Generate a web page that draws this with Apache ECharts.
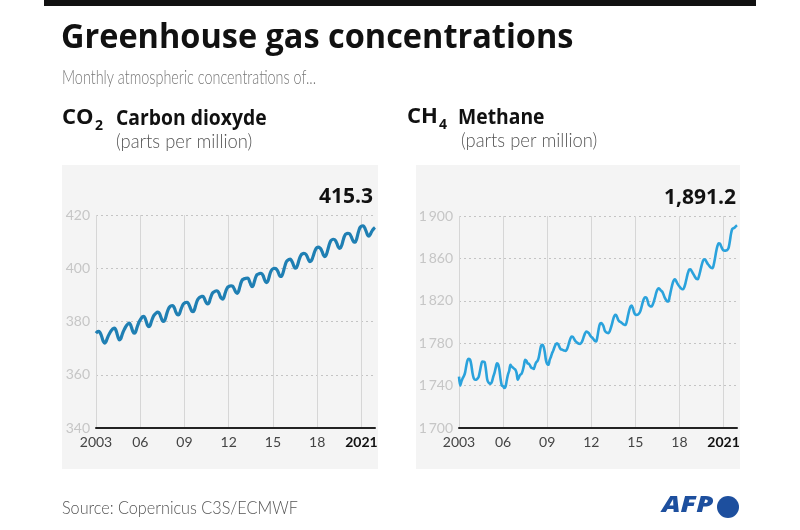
<!DOCTYPE html>
<html>
<head>
<meta charset="utf-8">
<script src="https://cdn.jsdelivr.net/npm/echarts@6/dist/echarts.min.js"></script>
<style>
html,body{margin:0;padding:0;background:#fff;}
#c{width:800px;height:530px;}
</style>
</head>
<body>
<div id="c"></div>
<script>
// ---- Data (monthly, Jan 2003 - Dec 2021) ----
const startYear = 2003;
const xTickLabels = ['2003', '06', '09', '12', '15', '18', '2021'];
const co2Latest = '415.3';
const ch4Latest = '1,891.2';
const co2Ticks = [340, 360, 380, 400, 420];
const ch4Ticks = [1700, 1740, 1780, 1820, 1860, 1900];

const co2 = [
  375.6, 376.1, 376.3, 376.0, 375.2, 373.8, 372.5, 371.9, 372.3, 373.5, 374.6, 375.5, // 2003
  376.3, 376.9, 377.3, 377.5, 377.0, 375.6, 374.0, 373.1, 373.4, 374.7, 376.0, 377.0, // 2004
  377.9, 378.6, 379.1, 379.4, 378.9, 377.6, 376.2, 375.6, 375.9, 377.2, 378.6, 379.8, // 2005
  380.6, 381.3, 381.8, 381.9, 381.2, 379.8, 378.5, 378.1, 378.5, 379.9, 381.2, 382.2, // 2006
  382.8, 383.2, 383.5, 383.4, 382.7, 381.4, 380.3, 380.0, 380.5, 382.0, 383.6, 384.8, // 2007
  385.5, 385.9, 386.0, 385.7, 384.8, 383.5, 382.7, 382.5, 383.0, 384.4, 385.6, 386.5, // 2008
  386.9, 387.1, 387.2, 386.9, 386.0, 384.8, 383.9, 383.7, 384.3, 385.9, 387.4, 388.4, // 2009
  388.9, 389.2, 389.4, 389.4, 388.8, 387.7, 386.9, 386.6, 387.1, 388.6, 389.9, 390.8, // 2010
  391.1, 391.4, 391.5, 391.4, 390.7, 389.5, 388.7, 388.4, 389.0, 390.5, 391.9, 392.8, // 2011
  393.1, 393.3, 393.4, 393.3, 392.7, 391.7, 390.9, 390.6, 391.3, 393.0, 394.6, 395.6, // 2012
  395.9, 396.1, 396.2, 396.3, 396.1, 395.0, 393.8, 393.1, 393.6, 395.2, 396.7, 397.6, // 2013
  397.8, 398.0, 398.1, 397.9, 397.2, 395.9, 394.9, 394.6, 395.3, 397.0, 398.5, 399.4, // 2014
  399.8, 400.0, 399.9, 399.5, 398.8, 397.6, 396.9, 397.0, 398.0, 399.7, 401.3, 402.5, // 2015
  403.0, 403.3, 403.4, 403.0, 402.0, 400.8, 400.0, 400.2, 401.2, 402.8, 404.2, 405.1, // 2016
  405.4, 405.6, 405.5, 405.1, 404.2, 403.1, 402.5, 402.7, 403.6, 405.0, 406.4, 407.4, // 2017
  407.8, 407.9, 407.7, 407.2, 406.2, 405.0, 404.4, 404.7, 405.9, 407.6, 409.2, 410.3, // 2018
  410.7, 410.9, 410.8, 410.3, 409.3, 408.1, 407.5, 407.7, 408.7, 410.4, 411.9, 412.8, // 2019
  413.0, 413.1, 413.0, 412.5, 411.5, 410.4, 409.8, 409.8, 410.9, 412.7, 414.4, 415.4, // 2020
  415.8, 415.9, 415.7, 414.8, 413.6, 412.4, 412.1, 412.6, 413.5, 414.3, 414.9, 415.3  // 2021
];

const ch4 = [
  1748.5, 1740.0, 1744.0, 1747.0, 1749.0, 1752.5, 1759.0, 1764.0, 1765.3, 1764.5, 1760.0, 1752.0, // 2003
  1747.0, 1745.5, 1745.5, 1746.5, 1748.0, 1753.0, 1759.0, 1762.8, 1762.5, 1762.0, 1755.0, 1746.0, // 2004
  1743.0, 1742.0, 1741.8, 1744.0, 1748.5, 1752.0, 1757.0, 1761.0, 1760.0, 1755.0, 1746.0, 1740.0, // 2005
  1739.5, 1737.7, 1739.0, 1745.0, 1750.5, 1754.0, 1759.7, 1758.0, 1757.0, 1756.0, 1755.0, 1752.0, // 2006
  1745.5, 1748.0, 1750.2, 1751.0, 1754.0, 1759.0, 1764.4, 1763.5, 1761.0, 1760.6, 1759.0, 1757.0, // 2007
  1756.5, 1755.6, 1759.0, 1761.9, 1763.0, 1766.0, 1772.0, 1777.5, 1778.5, 1777.0, 1772.0, 1764.0, // 2008
  1760.5, 1759.7, 1764.0, 1767.0, 1770.6, 1773.0, 1776.5, 1779.0, 1780.0, 1779.0, 1776.5, 1774.5, // 2009
  1774.0, 1773.5, 1773.0, 1772.8, 1774.0, 1777.0, 1781.0, 1784.5, 1786.3, 1786.0, 1784.0, 1782.0, // 2010
  1781.0, 1780.0, 1779.5, 1779.4, 1780.5, 1783.0, 1786.5, 1789.5, 1791.0, 1790.5, 1789.5, 1787.5, // 2011
  1786.0, 1785.0, 1783.5, 1782.0, 1781.6, 1786.0, 1793.0, 1798.0, 1798.9, 1798.0, 1796.0, 1792.0, // 2012
  1790.5, 1789.8, 1789.5, 1791.0, 1794.5, 1798.5, 1803.0, 1806.0, 1806.7, 1805.0, 1802.0, 1800.5, // 2013
  1800.0, 1799.0, 1798.0, 1797.5, 1797.3, 1800.5, 1806.0, 1811.0, 1814.5, 1815.5, 1813.0, 1809.0, // 2014
  1807.0, 1806.7, 1807.0, 1808.0, 1810.0, 1814.0, 1818.5, 1822.0, 1823.4, 1823.0, 1820.0, 1816.0, // 2015
  1815.0, 1814.6, 1816.0, 1819.0, 1823.0, 1827.5, 1830.5, 1831.9, 1831.0, 1829.5, 1828.5, 1826.0, // 2016
  1823.0, 1821.0, 1819.5, 1819.3, 1824.0, 1829.5, 1834.5, 1838.5, 1840.3, 1839.5, 1837.0, 1835.0, // 2017
  1833.5, 1832.0, 1831.0, 1830.9, 1833.0, 1837.0, 1842.0, 1846.5, 1849.5, 1849.8, 1848.0, 1846.0, // 2018
  1844.0, 1842.0, 1840.5, 1840.3, 1843.5, 1848.0, 1853.0, 1857.0, 1859.2, 1859.0, 1857.0, 1855.0, // 2019
  1853.5, 1852.0, 1851.0, 1850.7, 1854.0, 1860.0, 1866.5, 1871.5, 1874.3, 1874.0, 1871.5, 1869.0, // 2020
  1867.5, 1867.3, 1867.5, 1868.0, 1869.5, 1875.0, 1882.5, 1887.5, 1888.4, 1889.0, 1890.2, 1891.2  // 2021
];

// ---- Build series pairs (x = years since Jan 2003) ----
function toPairs(arr) {
  return arr.map((v, i) => [i / 12, v]);
}
const xMax = (co2.length - 1) / 12;

const chart = echarts.init(document.getElementById('c'), null, {renderer: 'canvas'});

const FONT = 'Lato, "Open Sans", sans-serif';

function xAxisCfg(gridIndex) {
  return {
    type: 'value', gridIndex: gridIndex,
    min: 0, max: xMax, interval: 3,
    axisLine: {show: true, onZero: false, lineStyle: {color: '#222', width: 2}},
    axisTick: {show: false},
    splitLine: {show: true, showMaxLine: false, lineStyle: {color: '#d6d6d6', width: 1, type: 'solid'}},
    axisLabel: {
      show: true, margin: 7, showMaxLabel: false,
      color: '#444', fontSize: 14, fontFamily: FONT,
      formatter: function (v) {
        const k = Math.round(v / 3);
        if (Math.abs(v - k * 3) > 1e-6) return '';
        if (k === xTickLabels.length - 1) return '{b|' + xTickLabels[k] + '}';
        return xTickLabels[k] || '';
      },
      rich: {b: {fontWeight: 'bold', color: '#111', fontSize: 14, fontFamily: FONT}}
    }
  };
}
function yAxisCfg(gridIndex, ticks, fmt) {
  return {
    type: 'value', gridIndex: gridIndex,
    min: ticks[0], max: ticks[ticks.length - 1], interval: ticks[1] - ticks[0],
    axisLine: {show: false}, axisTick: {show: false},
    splitLine: {show: true, showMinLine: false, lineStyle: {color: '#c4c4c4', type: [2, 3], width: 1}},
    axisLabel: {color: '#c6c6c6', fontSize: 14, fontFamily: FONT, margin: 6, formatter: fmt}
  };
}

const option = {
  backgroundColor: '#ffffff',
  animation: false,
  grid: [
    {left: 96, right: 425, top: 215, bottom: 102, containLabel: false},
    {left: 459, right: 63, top: 216, bottom: 102, containLabel: false}
  ],
  xAxis: [xAxisCfg(0), xAxisCfg(1)],
  yAxis: [
    yAxisCfg(0, co2Ticks, v => String(v)),
    yAxisCfg(1, ch4Ticks, v => String(v).replace(/(\d)(?=(\d{3})+$)/, '$1\u2009'))
  ],
  series: [
    {type: 'line', xAxisIndex: 0, yAxisIndex: 0, data: toPairs(co2), showSymbol: false, symbol: 'none',
     lineStyle: {color: '#1f7fb3', width: 3.2}, smooth: 0.3, z: 3},
    {type: 'line', xAxisIndex: 1, yAxisIndex: 1, data: toPairs(ch4), showSymbol: false, symbol: 'none',
     lineStyle: {color: '#2aa2dc', width: 2.6}, smooth: 0.3, z: 3}
  ],
  graphic: [
    {type: 'rect', z: -10, shape: {x: 62, y: 165, width: 316, height: 304}, style: {fill: '#f4f4f4'}},
    {type: 'rect', z: -10, shape: {x: 416, y: 165, width: 324, height: 304}, style: {fill: '#f4f4f4'}},
    {type: 'rect', shape: {x: 44, y: 0, width: 712, height: 6}, style: {fill: '#111'}},
    {type: 'text', x: 61, y: 38, scaleX: 0.955, style: {text: 'Greenhouse gas concentrations', font: 'bold 34px "Open Sans", sans-serif', fill: '#111', textVerticalAlign: 'middle'}},
    {type: 'text', x: 62, y: 78, scaleX: 0.72, style: {text: 'Monthly atmospheric concentrations of...', font: '300 20px Lato, sans-serif', fill: '#777', textVerticalAlign: 'middle'}},
    // CO2
    {type: 'text', x: 62, y: 118, style: {text: 'CO', font: 'bold 22px "Open Sans", sans-serif', fill: '#111', textVerticalAlign: 'middle'}},
    {type: 'text', x: 95, y: 126, style: {text: '2', font: 'bold 14px "Open Sans", sans-serif', fill: '#111', textVerticalAlign: 'middle'}},
    {type: 'text', x: 116, y: 119, scaleX: 0.92, style: {text: 'Carbon dioxyde', font: 'bold 21px "Open Sans", sans-serif', fill: '#111', textVerticalAlign: 'middle'}},
    {type: 'text', x: 116, y: 142, scaleX: 0.92, style: {text: '(parts per million)', font: '300 20px Lato, sans-serif', fill: '#555', textVerticalAlign: 'middle'}},
    // CH4
    {type: 'text', x: 407, y: 117, style: {text: 'CH', font: 'bold 22px "Open Sans", sans-serif', fill: '#111', textVerticalAlign: 'middle'}},
    {type: 'text', x: 439, y: 125, style: {text: '4', font: 'bold 14px "Open Sans", sans-serif', fill: '#111', textVerticalAlign: 'middle'}},
    {type: 'text', x: 458, y: 118, scaleX: 0.92, style: {text: 'Methane', font: 'bold 21px "Open Sans", sans-serif', fill: '#111', textVerticalAlign: 'middle'}},
    {type: 'text', x: 461, y: 141, scaleX: 0.92, style: {text: '(parts per million)', font: '300 20px Lato, sans-serif', fill: '#555', textVerticalAlign: 'middle'}},
    // latest values
    {type: 'text', x: 373, y: 197, style: {text: co2Latest, font: 'bold 21px "Open Sans", sans-serif', fill: '#111', textAlign: 'right', textVerticalAlign: 'middle'}},
    {type: 'text', x: 736, y: 198, style: {text: ch4Latest, font: 'bold 21px "Open Sans", sans-serif', fill: '#111', textAlign: 'right', textVerticalAlign: 'middle'}},
    // footer
    {type: 'text', x: 62, y: 508, scaleX: 0.9, style: {text: 'Source: Copernicus C3S/ECMWF', font: '300 18px Lato, sans-serif', fill: '#555', textVerticalAlign: 'middle'}},
    {type: 'text', x: 662, y: 506, scaleX: 1.25, style: {text: 'AFP', font: 'italic 900 22px "Open Sans", sans-serif', fill: '#1d4f9e', textVerticalAlign: 'middle'}},
    {type: 'circle', shape: {cx: 728, cy: 507, r: 11}, style: {fill: '#1d4f9e'}}
  ]
};
chart.setOption(option);
</script>
</body>
</html>
